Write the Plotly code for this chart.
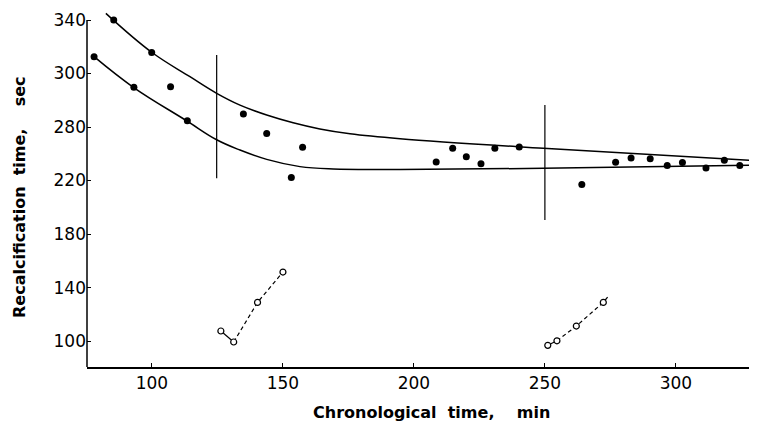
import plotly.graph_objects as go

# Filled points: recalcification time (sec) vs chronological time (min)
pts_x = [77.9, 85.4, 99.9, 93.1, 107.1, 113.5, 134.9, 143.8, 157.5, 153.2,
         208.5, 214.8, 220.0, 225.6, 230.9, 240.2, 264.1, 277.0, 282.9, 290.2,
         296.7, 302.5, 311.5, 318.5, 324.4]
pts_y = [312.6, 340.0, 315.8, 289.7, 290.2, 264.7, 269.7, 255.2, 244.9, 222.3,
         233.8, 244.1, 237.8, 232.6, 244.1, 245.0, 217.1, 233.6, 236.8, 236.3,
         231.2, 233.5, 229.4, 235.1, 231.3]

# Upper and lower envelope curves
upper_x = [82.4, 99.9, 114.5, 124.7, 133.6, 143.8, 153.9, 164.1, 175.6, 194.7, 249.4, 330.8]
upper_y = [345.0, 315.9, 297.6, 285.2, 276.4, 269.0, 263.2, 258.6, 255.0, 251.3, 244.1, 234.8]
lower_x = [77.9, 92.9, 113.2, 124.7, 133.6, 143.8, 156.5, 169.2, 194.7, 249.4, 330.8]
lower_y = [312.6, 289.7, 264.7, 250.5, 242.8, 235.8, 230.4, 228.6, 228.3, 229.1, 231.6]

# Vertical marker lines
vline_x = [124.7, 250.0]
vline_lo = [221.8, 190.5]
vline_hi = [313.8, 276.4]

# Open-circle groups
grpA_x = [126.3, 131.2, 140.3, 150.0]
grpA_y = [107.5, 99.3, 128.9, 151.6]
grpB_x = [251.1, 254.6, 262.0, 272.3]
grpB_y = [96.8, 100.2, 111.2, 128.9]
grpB_ext_x = [274.6]
grpB_ext_y = [134.4]

x_ticks = [100, 150, 200, 250, 300]
y_tickvals = [100, 140, 180, 220, 260, 300, 340]
y_ticktext = ["100", "140", "180", "220", "280", "300", "340"]

x_range = [75.2, 328.3]
y_range = [80.6, 346.0]

FONT = "DejaVu Sans"
# page has an 8px body margin; compensate so the plot lands where the reference has it
W, H = 749, 416
ML, MR, MT, MB = 79, 7, 4, 57
PW, PH = W - ML - MR, H - MT - MB

fig = go.Figure()

line_style = dict(color="black", width=1.5)
fig.add_trace(go.Scatter(x=upper_x, y=upper_y, mode="lines",
                         line=dict(shape="spline", smoothing=1.1, **line_style), hoverinfo="skip"))
fig.add_trace(go.Scatter(x=lower_x, y=lower_y, mode="lines",
                         line=dict(shape="spline", smoothing=1.1, **line_style), hoverinfo="skip"))

for vx, lo, hi in zip(vline_x, vline_lo, vline_hi):
    fig.add_trace(go.Scatter(x=[vx, vx], y=[lo, hi], mode="lines",
                             line=dict(color="black", width=1.2), hoverinfo="skip"))

# groups: first segment solid, the rest dashed
for gx, gy, ex, ey in [(grpA_x, grpA_y, [], []), (grpB_x, grpB_y, grpB_ext_x, grpB_ext_y)]:
    fig.add_trace(go.Scatter(x=gx[:2], y=gy[:2], mode="lines", line=dict(color="black", width=1.2)))
    fig.add_trace(go.Scatter(x=gx[1:] + ex, y=gy[1:] + ey, mode="lines",
                             line=dict(color="black", width=1.2, dash="4px,3px")))
    fig.add_trace(go.Scatter(x=gx, y=gy, mode="markers",
                             marker=dict(symbol="circle", size=6, color="white",
                                         line=dict(color="black", width=1.2))))

fig.add_trace(go.Scatter(x=pts_x, y=pts_y, mode="markers",
                         marker=dict(symbol="circle", size=7, color="black")))

# y axis line from bottom up to the top tick only
fig.add_shape(type="line", xref="paper", yref="y", x0=0, x1=0, y0=y_range[0], y1=max(y_tickvals),
              line=dict(color="black", width=1.5))

fig.update_layout(
    width=W, height=H,
    margin=dict(l=ML, r=MR, t=MT, b=MB, autoexpand=False),
    paper_bgcolor="white", plot_bgcolor="white",
    showlegend=False,
    font=dict(family=FONT, color="black", size=17),
    xaxis=dict(range=x_range, tickvals=x_ticks, ticks="inside", ticklen=4, tickcolor="black",
               showline=True, linecolor="black", linewidth=1.5, showgrid=False, zeroline=False,
               tickfont=dict(size=17)),
    yaxis=dict(range=y_range, tickvals=y_tickvals, ticktext=y_ticktext, ticks="inside", ticklen=4,
               tickcolor="black", showline=False, showgrid=False, zeroline=False,
               tickfont=dict(size=17)),
    annotations=[
        dict(text="<b>Chronological\u00a0\u00a0time,\u00a0\u00a0\u00a0\u00a0min</b>", xref="paper", yref="paper",
             x=(423 - ML) / PW, y=(PH + MT - 404) / PH, xanchor="center", yanchor="middle", showarrow=False,
             font=dict(size=16, family=FONT)),
        dict(text="<b>Recalcification\u00a0\u00a0time,\u00a0\u00a0\u00a0\u00a0sec</b>", xref="paper", yref="paper",
             x=(11 - ML) / PW, y=(PH + MT - 189) / PH, xanchor="center", yanchor="middle", textangle=-90,
             showarrow=False, font=dict(size=16, family=FONT)),
    ],
)

fig.write_html("out.html")
